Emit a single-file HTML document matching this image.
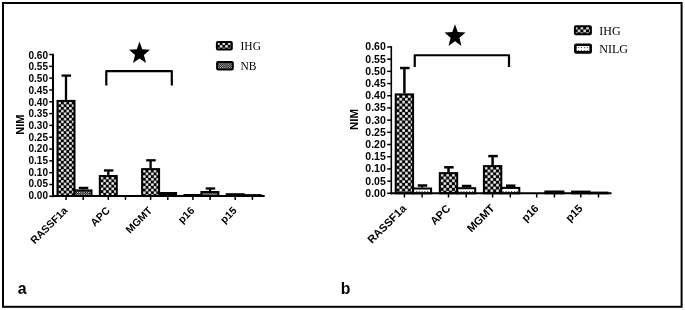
<!DOCTYPE html>
<html><head><meta charset="utf-8"><style>
html,body{margin:0;padding:0;background:#fff;}
svg{display:block;filter:grayscale(1);}
text{font-family:"Liberation Sans",sans-serif;}
.yl{font-size:10px;font-weight:bold;text-anchor:end;}
.yt{font-size:11px;font-weight:bold;text-anchor:middle;}
.xl{font-size:10.5px;font-weight:bold;text-anchor:end;}
.lg{font-family:"Liberation Serif",serif;font-size:11.5px;}
.pl{font-size:15.8px;font-weight:bold;}
</style></head><body>
<svg width="685" height="310" viewBox="0 0 685 310">
<defs>
<pattern id="ihg" width="5.4" height="5.4" patternUnits="userSpaceOnUse">
<rect width="5.4" height="5.4" fill="#000"/>
<rect x="0.1" y="0.1" width="2.5" height="2.5" fill="#fff"/>
<rect x="2.8" y="2.8" width="2.5" height="2.5" fill="#fff"/>
</pattern>
<pattern id="nb" width="2.2" height="2.4" patternUnits="userSpaceOnUse">
<rect width="2.2" height="2.4" fill="#000"/>
<rect width="1" height="1" fill="#fff"/><rect x="1.1" y="1.2" width="1" height="1" fill="#fff"/>
</pattern>
<pattern id="nbl" width="2" height="2" patternUnits="userSpaceOnUse">
<rect width="2" height="2" fill="#fff"/>
<rect width="1" height="1" fill="#000"/><rect x="1" y="1" width="1" height="1" fill="#000"/>
</pattern>
<pattern id="nilg" x="1.5" y="2" width="2.8" height="3" patternUnits="userSpaceOnUse">
<rect width="2.8" height="3" fill="#fff"/>
<rect width="1.1" height="1.1" fill="#444"/>
</pattern>
<pattern id="a0" x="58.3" y="101.6" width="5.4" height="5.4" patternUnits="userSpaceOnUse"><rect width="5.4" height="5.4" fill="#000"/><rect x="0.15" y="0.15" width="2.4" height="2.4" fill="#fff"/><rect x="2.85" y="2.85" width="2.4" height="2.4" fill="#fff"/></pattern>
<pattern id="a1" x="100.6" y="176.7" width="5.4" height="5.4" patternUnits="userSpaceOnUse"><rect width="5.4" height="5.4" fill="#000"/><rect x="0.15" y="0.15" width="2.4" height="2.4" fill="#fff"/><rect x="2.85" y="2.85" width="2.4" height="2.4" fill="#fff"/></pattern>
<pattern id="a2" x="142.9" y="169.8" width="5.4" height="5.4" patternUnits="userSpaceOnUse"><rect width="5.4" height="5.4" fill="#000"/><rect x="0.15" y="0.15" width="2.4" height="2.4" fill="#fff"/><rect x="2.85" y="2.85" width="2.4" height="2.4" fill="#fff"/></pattern>
<pattern id="a3" x="185.2" y="195.7" width="5.4" height="5.4" patternUnits="userSpaceOnUse"><rect width="5.4" height="5.4" fill="#000"/><rect x="0.15" y="0.15" width="2.4" height="2.4" fill="#fff"/><rect x="2.85" y="2.85" width="2.4" height="2.4" fill="#fff"/></pattern>
<pattern id="a4" x="227.5" y="194.9" width="5.4" height="5.4" patternUnits="userSpaceOnUse"><rect width="5.4" height="5.4" fill="#000"/><rect x="0.15" y="0.15" width="2.4" height="2.4" fill="#fff"/><rect x="2.85" y="2.85" width="2.4" height="2.4" fill="#fff"/></pattern>
<pattern id="al" x="217.05" y="42.25" width="5.4" height="5.4" patternUnits="userSpaceOnUse"><rect width="5.4" height="5.4" fill="#000"/><rect x="0.15" y="0.15" width="2.4" height="2.4" fill="#fff"/><rect x="2.85" y="2.85" width="2.4" height="2.4" fill="#fff"/></pattern>
<pattern id="b0" x="396.5" y="95" width="5.68" height="5.68" patternUnits="userSpaceOnUse"><rect width="5.68" height="5.68" fill="#000"/><rect x="0.17" y="0.17" width="2.5" height="2.5" fill="#fff"/><rect x="3.01" y="3.01" width="2.5" height="2.5" fill="#fff"/></pattern>
<pattern id="b1" x="440.6" y="173.7" width="5.68" height="5.68" patternUnits="userSpaceOnUse"><rect width="5.68" height="5.68" fill="#000"/><rect x="0.17" y="0.17" width="2.5" height="2.5" fill="#fff"/><rect x="3.01" y="3.01" width="2.5" height="2.5" fill="#fff"/></pattern>
<pattern id="b2" x="484.7" y="166.7" width="5.68" height="5.68" patternUnits="userSpaceOnUse"><rect width="5.68" height="5.68" fill="#000"/><rect x="0.17" y="0.17" width="2.5" height="2.5" fill="#fff"/><rect x="3.01" y="3.01" width="2.5" height="2.5" fill="#fff"/></pattern>
<pattern id="b4" x="572.9" y="192.2" width="5.68" height="5.68" patternUnits="userSpaceOnUse"><rect width="5.68" height="5.68" fill="#000"/><rect x="0.17" y="0.17" width="2.5" height="2.5" fill="#fff"/><rect x="3.01" y="3.01" width="2.5" height="2.5" fill="#fff"/></pattern>
<pattern id="bl" x="574.74" y="26.64" width="5.68" height="5.68" patternUnits="userSpaceOnUse"><rect width="5.68" height="5.68" fill="#000"/><rect x="0.17" y="0.17" width="2.5" height="2.5" fill="#fff"/><rect x="3.01" y="3.01" width="2.5" height="2.5" fill="#fff"/></pattern>
</defs>
<rect x="3" y="3" width="678.6" height="303.8" fill="none" stroke="#000" stroke-width="2"/>
<rect x="57.5" y="100.9" width="17" height="95.1" fill="url(#a0)" stroke="#000" stroke-width="2"/>
<line x1="66" y1="75.6" x2="66" y2="99.9" stroke="#000" stroke-width="2.3"/>
<line x1="61.6" y1="75.6" x2="71.1" y2="75.6" stroke="#000" stroke-width="2.3"/>
<line x1="66" y1="196" x2="66" y2="199.9" stroke="#000" stroke-width="1.5"/>
<rect x="74.5" y="190.4" width="17" height="5.6" fill="url(#nb)" stroke="#000" stroke-width="2"/>
<line x1="83.2" y1="187.9" x2="83.2" y2="189.4" stroke="#000" stroke-width="2.3"/>
<line x1="78.8" y1="187.9" x2="88.3" y2="187.9" stroke="#000" stroke-width="2.3"/>
<line x1="83.2" y1="196" x2="83.2" y2="199.9" stroke="#000" stroke-width="1.5"/>
<rect x="99.8" y="176" width="17" height="20" fill="url(#a1)" stroke="#000" stroke-width="2"/>
<line x1="108.3" y1="170.45" x2="108.3" y2="175" stroke="#000" stroke-width="2.3"/>
<line x1="103.9" y1="170.45" x2="113.4" y2="170.45" stroke="#000" stroke-width="2.3"/>
<line x1="108.3" y1="196" x2="108.3" y2="199.9" stroke="#000" stroke-width="1.5"/>
<line x1="125.5" y1="196" x2="125.5" y2="199.9" stroke="#000" stroke-width="1.5"/>
<rect x="142.1" y="169.1" width="17" height="26.9" fill="url(#a2)" stroke="#000" stroke-width="2"/>
<line x1="150.6" y1="160.3" x2="150.6" y2="168.1" stroke="#000" stroke-width="2.3"/>
<line x1="146.2" y1="160.3" x2="155.7" y2="160.3" stroke="#000" stroke-width="2.3"/>
<line x1="150.6" y1="196" x2="150.6" y2="199.9" stroke="#000" stroke-width="1.5"/>
<rect x="158.1" y="192" width="19" height="5" fill="#000"/>
<line x1="167.8" y1="196" x2="167.8" y2="199.9" stroke="#000" stroke-width="1.5"/>
<rect x="183.4" y="194" width="19" height="3" fill="#000"/>
<line x1="192.9" y1="196" x2="192.9" y2="199.9" stroke="#000" stroke-width="1.5"/>
<rect x="201.4" y="192" width="17" height="4" fill="url(#nb)" stroke="#000" stroke-width="2"/>
<line x1="210.1" y1="188.5" x2="210.1" y2="191" stroke="#000" stroke-width="2.3"/>
<line x1="205.7" y1="188.5" x2="215.2" y2="188.5" stroke="#000" stroke-width="2.3"/>
<line x1="210.1" y1="196" x2="210.1" y2="199.9" stroke="#000" stroke-width="1.5"/>
<rect x="225.7" y="193.2" width="19" height="3.8" fill="#000"/>
<line x1="235.2" y1="196" x2="235.2" y2="199.9" stroke="#000" stroke-width="1.5"/>
<rect x="242.7" y="194.1" width="19" height="2.9" fill="#000"/>
<line x1="252.4" y1="196" x2="252.4" y2="199.9" stroke="#000" stroke-width="1.5"/>
<line x1="53" y1="53.77" x2="53" y2="197.3" stroke="#000" stroke-width="2"/>
<line x1="52" y1="196" x2="264.7" y2="196" stroke="#000" stroke-width="2"/>
<line x1="49.3" y1="196.3" x2="53" y2="196.3" stroke="#000" stroke-width="1.5"/>
<text x="48" y="199.1" class="yl" style="font-size:10px">0.00</text>
<line x1="49.3" y1="184.49" x2="53" y2="184.49" stroke="#000" stroke-width="1.5"/>
<text x="48" y="187.41" class="yl" style="font-size:10px">0.05</text>
<line x1="49.3" y1="172.67" x2="53" y2="172.67" stroke="#000" stroke-width="1.5"/>
<text x="48" y="175.71" class="yl" style="font-size:10px">0.10</text>
<line x1="49.3" y1="160.86" x2="53" y2="160.86" stroke="#000" stroke-width="1.5"/>
<text x="48" y="164.01" class="yl" style="font-size:10px">0.15</text>
<line x1="49.3" y1="149.04" x2="53" y2="149.04" stroke="#000" stroke-width="1.5"/>
<text x="48" y="152.32" class="yl" style="font-size:10px">0.20</text>
<line x1="49.3" y1="137.23" x2="53" y2="137.23" stroke="#000" stroke-width="1.5"/>
<text x="48" y="140.62" class="yl" style="font-size:10px">0.25</text>
<line x1="49.3" y1="125.41" x2="53" y2="125.41" stroke="#000" stroke-width="1.5"/>
<text x="48" y="128.93" class="yl" style="font-size:10px">0.30</text>
<line x1="49.3" y1="113.59" x2="53" y2="113.59" stroke="#000" stroke-width="1.5"/>
<text x="48" y="117.23" class="yl" style="font-size:10px">0.35</text>
<line x1="49.3" y1="101.78" x2="53" y2="101.78" stroke="#000" stroke-width="1.5"/>
<text x="48" y="105.54" class="yl" style="font-size:10px">0.40</text>
<line x1="49.3" y1="89.97" x2="53" y2="89.97" stroke="#000" stroke-width="1.5"/>
<text x="48" y="93.84" class="yl" style="font-size:10px">0.45</text>
<line x1="49.3" y1="78.15" x2="53" y2="78.15" stroke="#000" stroke-width="1.5"/>
<text x="48" y="82.15" class="yl" style="font-size:10px">0.50</text>
<line x1="49.3" y1="66.34" x2="53" y2="66.34" stroke="#000" stroke-width="1.5"/>
<text x="48" y="70.45" class="yl" style="font-size:10px">0.55</text>
<line x1="49.3" y1="54.52" x2="53" y2="54.52" stroke="#000" stroke-width="1.5"/>
<text x="48" y="58.76" class="yl" style="font-size:10px">0.60</text>
<text class="yt" style="font-size:11px" transform="translate(24.2,124.6) rotate(-90)">NIM</text>
<text class="xl" style="font-size:10.5px" transform="translate(68.2,211.2) rotate(-45)">RASSF1a</text>
<text class="xl" style="font-size:10.5px" transform="translate(110.5,211.2) rotate(-45)">APC</text>
<text class="xl" style="font-size:10.5px" transform="translate(152.8,211.2) rotate(-45)">MGMT</text>
<text class="xl" style="font-size:10.5px" transform="translate(195.1,211.2) rotate(-45)">p16</text>
<text class="xl" style="font-size:10.5px" transform="translate(237.4,211.2) rotate(-45)">p15</text>
<path d="M106.3 85.4 V71.1 H171.8 V85.4" fill="none" stroke="#000" stroke-width="2.2" stroke-linejoin="round"/>
<polygon points="139.5,41.4 142.23,49.32 150,49.69 143.91,54.96 145.99,63.11 139.5,58.44 133.01,63.11 135.09,54.96 129,49.69 136.77,49.32" fill="#000"/>
<rect x="216.9" y="41.9" width="14.9" height="7.6" rx="1" fill="url(#al)" stroke="#000" stroke-width="2"/>
<text x="240.5" y="49.7" class="lg" style="font-size:11.5px">IHG</text>
<rect x="217.1" y="62.1" width="15.7" height="7.5" rx="1" fill="url(#nb)" stroke="#000" stroke-width="2"/>
<text x="240.5" y="69.5" class="lg" style="font-size:11.5px">NB</text>
<text x="17.8" y="293.7" class="pl">a</text>
<rect x="395.7" y="94.4" width="17.4" height="98.9" fill="url(#b0)" stroke="#000" stroke-width="2"/>
<line x1="404.4" y1="68" x2="404.4" y2="93.4" stroke="#000" stroke-width="2.5"/>
<line x1="400.05" y1="68" x2="409.55" y2="68" stroke="#000" stroke-width="2.5"/>
<line x1="404.4" y1="193.3" x2="404.4" y2="197.5" stroke="#000" stroke-width="1.5"/>
<rect x="413.1" y="188.5" width="18" height="4.8" fill="url(#nilg)" stroke="#000" stroke-width="2"/>
<line x1="422.1" y1="185.5" x2="422.1" y2="187.5" stroke="#000" stroke-width="2.5"/>
<line x1="417.75" y1="185.5" x2="427.25" y2="185.5" stroke="#000" stroke-width="2.5"/>
<line x1="422.1" y1="193.3" x2="422.1" y2="197.5" stroke="#000" stroke-width="1.5"/>
<rect x="439.8" y="173.1" width="17.4" height="20.2" fill="url(#b1)" stroke="#000" stroke-width="2"/>
<line x1="448.5" y1="167.3" x2="448.5" y2="172.1" stroke="#000" stroke-width="2.5"/>
<line x1="444.15" y1="167.3" x2="453.65" y2="167.3" stroke="#000" stroke-width="2.5"/>
<line x1="448.5" y1="193.3" x2="448.5" y2="197.5" stroke="#000" stroke-width="1.5"/>
<rect x="457.2" y="188.2" width="18" height="5.1" fill="url(#nilg)" stroke="#000" stroke-width="2"/>
<line x1="466.2" y1="186" x2="466.2" y2="187.2" stroke="#000" stroke-width="2.5"/>
<line x1="461.85" y1="186" x2="471.35" y2="186" stroke="#000" stroke-width="2.5"/>
<line x1="466.2" y1="193.3" x2="466.2" y2="197.5" stroke="#000" stroke-width="1.5"/>
<rect x="483.9" y="166.1" width="17.4" height="27.2" fill="url(#b2)" stroke="#000" stroke-width="2"/>
<line x1="492.6" y1="156.1" x2="492.6" y2="165.1" stroke="#000" stroke-width="2.5"/>
<line x1="488.25" y1="156.1" x2="497.75" y2="156.1" stroke="#000" stroke-width="2.5"/>
<line x1="492.6" y1="193.3" x2="492.6" y2="197.5" stroke="#000" stroke-width="1.5"/>
<rect x="501.3" y="187.9" width="18" height="5.4" fill="url(#nilg)" stroke="#000" stroke-width="2"/>
<line x1="510.3" y1="185.7" x2="510.3" y2="186.9" stroke="#000" stroke-width="2.5"/>
<line x1="505.95" y1="185.7" x2="515.45" y2="185.7" stroke="#000" stroke-width="2.5"/>
<line x1="510.3" y1="193.3" x2="510.3" y2="197.5" stroke="#000" stroke-width="1.5"/>
<line x1="536.7" y1="193.3" x2="536.7" y2="197.5" stroke="#000" stroke-width="1.5"/>
<rect x="544.4" y="190.5" width="20" height="3.8" fill="#000"/>
<line x1="554.4" y1="193.3" x2="554.4" y2="197.5" stroke="#000" stroke-width="1.5"/>
<rect x="571.1" y="190.6" width="19.4" height="3.7" fill="#000"/>
<line x1="580.8" y1="193.3" x2="580.8" y2="197.5" stroke="#000" stroke-width="1.5"/>
<rect x="588.5" y="191.6" width="20" height="2.7" fill="#000"/>
<line x1="598.5" y1="193.3" x2="598.5" y2="197.5" stroke="#000" stroke-width="1.5"/>
<line x1="391.3" y1="46.21" x2="391.3" y2="194.3" stroke="#000" stroke-width="1.6"/>
<line x1="390.3" y1="193.3" x2="611.5" y2="193.3" stroke="#000" stroke-width="2"/>
<line x1="387.2" y1="193.3" x2="391.3" y2="193.3" stroke="#000" stroke-width="1.5"/>
<text x="385.8" y="196.9" class="yl" style="font-size:10.5px">0.00</text>
<line x1="387.2" y1="181.11" x2="391.3" y2="181.11" stroke="#000" stroke-width="1.5"/>
<text x="385.8" y="184.69" class="yl" style="font-size:10.5px">0.05</text>
<line x1="387.2" y1="168.91" x2="391.3" y2="168.91" stroke="#000" stroke-width="1.5"/>
<text x="385.8" y="172.47" class="yl" style="font-size:10.5px">0.10</text>
<line x1="387.2" y1="156.72" x2="391.3" y2="156.72" stroke="#000" stroke-width="1.5"/>
<text x="385.8" y="160.25" class="yl" style="font-size:10.5px">0.15</text>
<line x1="387.2" y1="144.52" x2="391.3" y2="144.52" stroke="#000" stroke-width="1.5"/>
<text x="385.8" y="148.04" class="yl" style="font-size:10.5px">0.20</text>
<line x1="387.2" y1="132.33" x2="391.3" y2="132.33" stroke="#000" stroke-width="1.5"/>
<text x="385.8" y="135.82" class="yl" style="font-size:10.5px">0.25</text>
<line x1="387.2" y1="120.13" x2="391.3" y2="120.13" stroke="#000" stroke-width="1.5"/>
<text x="385.8" y="123.61" class="yl" style="font-size:10.5px">0.30</text>
<line x1="387.2" y1="107.94" x2="391.3" y2="107.94" stroke="#000" stroke-width="1.5"/>
<text x="385.8" y="111.39" class="yl" style="font-size:10.5px">0.35</text>
<line x1="387.2" y1="95.74" x2="391.3" y2="95.74" stroke="#000" stroke-width="1.5"/>
<text x="385.8" y="99.18" class="yl" style="font-size:10.5px">0.40</text>
<line x1="387.2" y1="83.55" x2="391.3" y2="83.55" stroke="#000" stroke-width="1.5"/>
<text x="385.8" y="86.97" class="yl" style="font-size:10.5px">0.45</text>
<line x1="387.2" y1="71.35" x2="391.3" y2="71.35" stroke="#000" stroke-width="1.5"/>
<text x="385.8" y="74.75" class="yl" style="font-size:10.5px">0.50</text>
<line x1="387.2" y1="59.16" x2="391.3" y2="59.16" stroke="#000" stroke-width="1.5"/>
<text x="385.8" y="62.53" class="yl" style="font-size:10.5px">0.55</text>
<line x1="387.2" y1="46.96" x2="391.3" y2="46.96" stroke="#000" stroke-width="1.5"/>
<text x="385.8" y="50.32" class="yl" style="font-size:10.5px">0.60</text>
<text class="yt" style="font-size:11.6px" transform="translate(358.4,119.4) rotate(-90)">NIM</text>
<text class="xl" style="font-size:11px" transform="translate(407,209.1) rotate(-45)">RASSF1a</text>
<text class="xl" style="font-size:11px" transform="translate(451.1,209.1) rotate(-45)">APC</text>
<text class="xl" style="font-size:11px" transform="translate(495.2,209.1) rotate(-45)">MGMT</text>
<text class="xl" style="font-size:11px" transform="translate(539.3,209.1) rotate(-45)">p16</text>
<text class="xl" style="font-size:11px" transform="translate(583.4,209.1) rotate(-45)">p15</text>
<path d="M414.75 66.9 V55.25 H509 V66.9" fill="none" stroke="#000" stroke-width="2.2" stroke-linejoin="round"/>
<polygon points="455,24.2 457.73,32.12 465.5,32.49 459.41,37.76 461.49,45.91 455,41.24 448.51,45.91 450.59,37.76 444.5,32.49 452.27,32.12" fill="#000"/>
<rect x="574.9" y="26.2" width="16" height="8" rx="1" fill="url(#bl)" stroke="#000" stroke-width="2"/>
<text x="599.3" y="34.6" class="lg" style="font-size:12px">IHG</text>
<rect x="575.3" y="44.8" width="15.4" height="7.6" rx="1" fill="url(#nilg)" stroke="#000" stroke-width="2.6"/>
<text x="599.3" y="52.6" class="lg" style="font-size:12px">NILG</text>
<text x="340.7" y="293.7" class="pl">b</text>
</svg>
</body></html>
